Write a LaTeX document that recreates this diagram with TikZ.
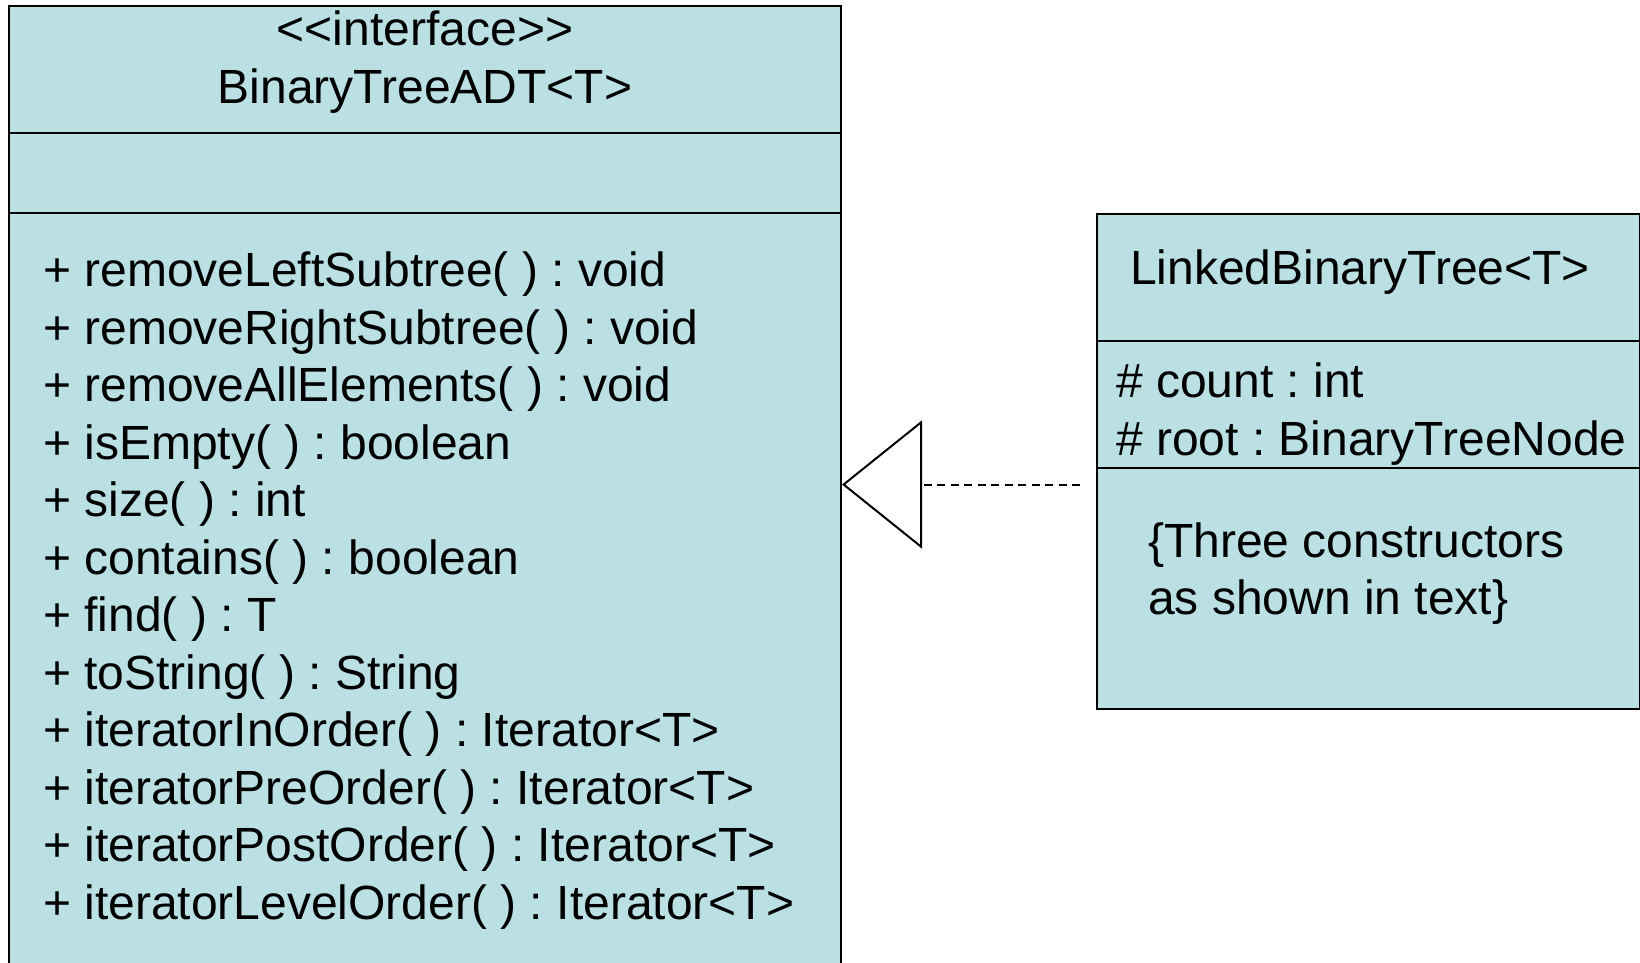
\documentclass[tikz,border=0pt]{standalone}
\usepackage{fontspec}
\setmainfont{Liberation Sans}
\usetikzlibrary{arrows.meta}
\definecolor{umlfill}{RGB}{186,224,228}
\frenchspacing
\begin{document}
\begin{tikzpicture}[x=1pt,y=-1pt,
  box/.style={draw=black, line width=2pt, fill=umlfill, inner sep=0pt, anchor=north west},
  rulel/.style={line width=2pt},
  txt/.style={inner sep=0pt, anchor=base west, font=\fontsize{48}{57.5}\selectfont},
  ctxt/.style={inner sep=0pt, anchor=base, font=\fontsize{48}{57.5}\selectfont},
  realize/.style={line width=2pt, dash pattern=on 8pt off 5.5pt},
  opentri/.style={-{Triangle[open, length=80pt, width=128pt, line width=2pt]}}
]
\useasboundingbox (0,0) rectangle (1640,962);
\clip (0,0) rectangle (1640,962);
\fill[white] (0,0) rectangle (1640,962);

% interface box
\node[box, minimum width=832.5pt, minimum height=1000pt] (adt) at (7.5,5) {};
\draw[rulel] (7.5,132.7) -- (840,132.7);
\draw[rulel] (7.5,212.5) -- (840,212.5);
\node[ctxt] (stereo) at (425,45) {<{}<interface>{}>};
\node[ctxt] (adtname) at (425,103) {BinaryTreeADT<T>};
\foreach \t [count=\i from 0] in {
  + removeLeftSubtree( ) : void,
  + removeRightSubtree( ) : void,
  + removeAllElements( ) : void,
  + isEmpty( ) : boolean,
  + size( ) : int,
  + contains( ) : boolean,
  + find( ) : T,
  + toString( ) : String,
  + iteratorInOrder( ) : Iterator<T>,
  + iteratorPreOrder( ) : Iterator<T>,
  + iteratorPostOrder( ) : Iterator<T>,
  + iteratorLevelOrder( ) : Iterator<T>}
  \node[txt] (m\i) at (43,286.5+57.5*\i) {\t};

% class box
\node[box, minimum width=542.5pt, minimum height=495pt] (lbt) at (1096,213.3) {};
\draw[rulel] (1096,340.7) -- (1638.5,340.7);
\draw[rulel] (1096,468.3) -- (1638.5,468.3);
\node[txt] (lbtname) at (1130,284.5) {LinkedBinaryTree<T>};
\node[txt] (attr1) at (1116,397.5) {\# count : int};
\node[txt] (attr2) at (1116,455) {\# root : BinaryTreeNode};
\node[txt] (ctor1) at (1148,557) {\{Three constructors};
\node[txt] (ctor2) at (1148,614.5) {as shown in text\}};

% realization connector
\coordinate (src) at (1080,484.5);
\draw[realize, opentri] (src) -- (adt.east |- src);
\end{tikzpicture}
\end{document}
